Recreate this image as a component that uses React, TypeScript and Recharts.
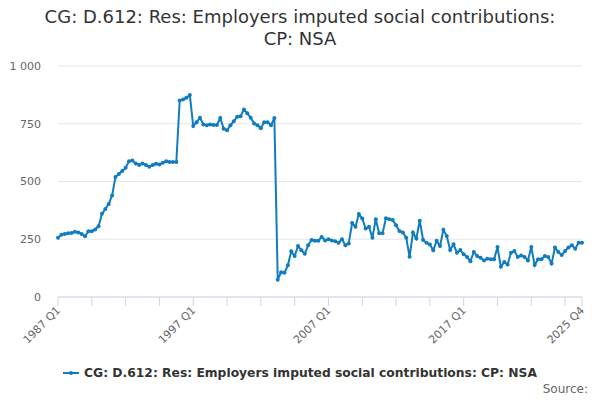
import { LineChart, Line, XAxis, YAxis, CartesianGrid } from 'recharts'

// quarterly labels 1987 Q1 .. 2025 Q4
const firstYear = 1987
const lastYear = 2025
const quarters: string[] = []
for (let y = firstYear; y <= lastYear; y++) {
  for (let q = 1; q <= 4; q++) quarters.push(`${y} Q${q}`)
}

// £ million
const values = [
  256, 270, 273, 276, 277, 282, 279, 273, 263, 285,
  285, 292, 306, 360, 381, 403, 439, 519, 533, 545,
  559, 588, 591, 578, 571, 578, 571, 564, 571, 577,
  574, 581, 588, 584, 584, 584, 851, 855, 863, 874,
  740, 757, 776, 747, 743, 747, 745, 745, 775, 728,
  722, 743, 761, 780, 783, 812, 795, 776, 751, 743,
  731, 757, 757, 743, 775, 75, 107, 105, 137, 198,
  177, 221, 202, 187, 224, 247, 244, 244, 260, 245,
  250, 245, 241, 235, 250, 224, 232, 320, 304, 359,
  340, 296, 304, 256, 337, 276, 276, 341, 337, 333,
  311, 286, 279, 257, 174, 279, 253, 330, 247, 235,
  227, 202, 243, 221, 291, 264, 203, 228, 192, 203,
  185, 173, 155, 195, 177, 170, 158, 166, 163, 163,
  216, 131, 151, 141, 192, 199, 173, 180, 173, 158,
  216, 138, 163, 163, 177, 173, 145, 214, 195, 182,
  199, 214, 224, 209, 235, 235,
]

const yTicks = [0, 250, 500, 750, 1000]
const tickQuarters = quarters.filter((_, i) => i % 10 === 0).concat(quarters[quarters.length - 1])
const labelledQuarters = ['1987 Q1', '1997 Q1', '2007 Q1', '2017 Q1', '2025 Q4']

const seriesName = 'CG: D.612: Res: Employers imputed social contributions: CP: NSA'
const LINE = '#107cc0'
const FONT = '"DejaVu Sans", sans-serif'

const data = quarters.map((q, i) => ({ quarter: q, value: values[i] }))

const QuarterTick = (props: any) => {
  const { x, y, payload } = props
  if (!labelledQuarters.includes(payload.value)) return <g />
  return (
    <text
      transform={`translate(${x + 3},${y + 3}) rotate(-45)`}
      textAnchor="end"
      fontSize={11}
      fill="#666"
      fontFamily={FONT}
    >
      {payload.value}
    </text>
  )
}

export default function App() {
  return (
    <div style={{ position: 'fixed', left: 0, top: 0, width: 600, height: 400, background: '#fff', fontFamily: FONT }}>
      <div style={{ position: 'absolute', top: 6, left: 0, width: 600, textAlign: 'center', fontSize: 18, lineHeight: '22px', color: '#333' }}>
        CG: D.612: Res: Employers imputed social contributions:<br />CP: NSA
      </div>

      <LineChart width={600} height={400} data={data} margin={{ top: 66, right: 18, left: 0, bottom: 73 }}>
        <CartesianGrid vertical={false} stroke="#e6e6e6" />
        <XAxis
          dataKey="quarter"
          ticks={tickQuarters}
          interval={0}
          height={30}
          tickSize={9}
          tick={<QuarterTick />}
          axisLine={{ stroke: '#ccd6eb' }}
          tickLine={{ stroke: '#ccd6eb' }}
        />
        <YAxis
          width={58}
          domain={[0, 1000]}
          ticks={yTicks}
          axisLine={false}
          tickLine={false}
          tickSize={0}
          tickMargin={17}
          tickFormatter={(v) => (v >= 1000 ? v.toLocaleString('en-GB').replace(',', ' ') : String(v))}
          tick={{ fontSize: 11, fill: '#666', fontFamily: FONT }}
        />
        <Line
          type="linear"
          dataKey="value"
          name={seriesName}
          stroke={LINE}
          strokeWidth={2}
          dot={{ r: 2, fill: LINE, stroke: LINE, strokeWidth: 0 }}
          activeDot={false}
          isAnimationActive={false}
        />
      </LineChart>

      <div style={{ position: 'absolute', top: 366, left: 0, width: 600, display: 'flex', justifyContent: 'center', alignItems: 'center', fontSize: 12.3, fontWeight: 'bold', color: '#333' }}>
        <svg width={16} height={10} style={{ marginRight: 5 }}>
          <line x1={0} y1={5} x2={16} y2={5} stroke={LINE} strokeWidth={2} />
          <circle cx={8} cy={5} r={2} fill={LINE} />
        </svg>
        <span>{seriesName}</span>
      </div>

      <div style={{ position: 'absolute', top: 382, right: 12, fontSize: 12, color: '#666' }}>Source:</div>
    </div>
  )
}
